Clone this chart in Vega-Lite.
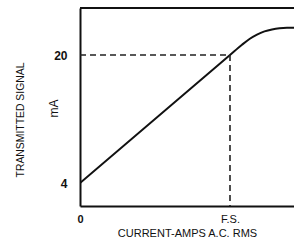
{
  "$schema": "https://vega.github.io/schema/vega-lite/v6.json",
  "autosize": {"type": "none"},
  "padding": {"left": 80, "top": 8, "right": 0, "bottom": 38},
  "width": 214,
  "height": 198,
  "background": "white",
  "title": {"text": "TRANSMITTED SIGNAL", "orient": "left", "anchor": "middle", "offset": 21, "dx": -13, "fontSize": 10.4, "fontWeight": "normal", "font": "Liberation Sans", "color": "#111"},
  "config": {
    "view": {"stroke": "transparent", "strokeWidth": 0},
    "font": "Liberation Sans",
    "axis": {"labelColor": "#111", "titleColor": "#111", "titleFontWeight": "normal", "grid": false, "domain": true, "domainColor": "#111", "domainWidth": 2, "ticks": false, "labelFont": "Liberation Sans", "titleFont": "Liberation Sans"}
  },
  "datasets": {
    "curve": [
      {"current": 0, "signal": 4},
      {"current": 100, "signal": 20},
      {"current": 108, "signal": 21.28},
      {"current": 113, "signal": 22.0},
      {"current": 118, "signal": 22.55},
      {"current": 123, "signal": 22.95},
      {"current": 128, "signal": 23.2},
      {"current": 133, "signal": 23.35},
      {"current": 138, "signal": 23.4},
      {"current": 142.67, "signal": 23.4}
    ],
    "guides": [
      {"x": 0, "x2": 100, "y": 20, "y2": 20},
      {"x": 100, "x2": 100, "y": 20, "y2": 1.125}
    ],
    "frame": [
      {"x": 0, "x2": 142.67, "y": 25.875}
    ]
  },
  "layer": [
    {
      "data": {"name": "curve"},
      "mark": {"type": "line", "color": "#111", "strokeWidth": 2, "interpolate": "monotone", "clip": true},
      "encoding": {
        "x": {
          "field": "current", "type": "quantitative",
          "scale": {"domain": [0, 142.67], "nice": false, "zero": false},
          "axis": {
            "orient": "bottom",
            "values": [0, 100],
            "labelExpr": "datum.value == 100 ? 'F.S.' : datum.label",
            "labelFlush": false,
            "labelFontSize": 11,
            "labelFontWeight": {"condition": {"test": "datum.value == 0", "value": "bold"}, "value": "normal"},
            "labelPadding": 7,
            "title": "CURRENT-AMPS A.C. RMS",
            "titleFontSize": 11,
            "titleBaseline": "middle",
            "titleX": 107,
            "titleY": 27
          }
        },
        "y": {
          "field": "signal", "type": "quantitative",
          "scale": {"domain": [1.125, 25.875], "nice": false, "zero": false},
          "axis": {
            "orient": "left",
            "values": [4, 20],
            "labelFontSize": 12,
            "labelFontWeight": "bold",
            "labelPadding": 13,
            "title": "mA",
            "titleFontSize": 12,
            "titleAngle": -90,
            "titleAlign": "center",
            "titleBaseline": "middle",
            "titleX": -27,
            "titleY": 100
          }
        }
      }
    },
    {
      "data": {"name": "guides"},
      "mark": {"type": "rule", "color": "#222", "strokeWidth": 1.6, "strokeDash": [6, 4]},
      "encoding": {
        "x": {"field": "x", "type": "quantitative"},
        "x2": {"field": "x2"},
        "y": {"field": "y", "type": "quantitative"},
        "y2": {"field": "y2"}
      }
    },
    {
      "data": {"name": "frame"},
      "mark": {"type": "rule", "color": "#111", "strokeWidth": 2},
      "encoding": {
        "x": {"field": "x", "type": "quantitative"},
        "x2": {"field": "x2"},
        "y": {"field": "y", "type": "quantitative"}
      }
    }
  ]
}
